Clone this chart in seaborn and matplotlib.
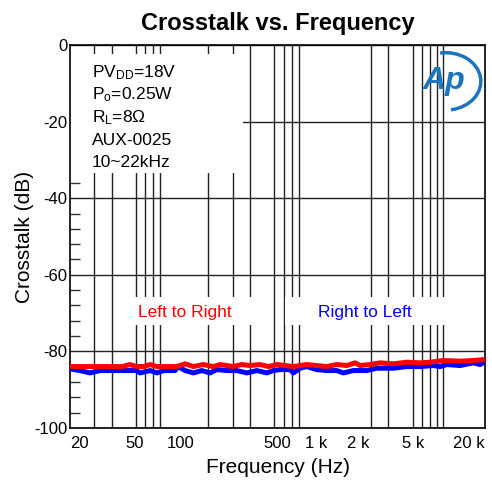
import matplotlib
matplotlib.use('Agg')
import matplotlib.pyplot as plt
import seaborn as sns
import pandas as pd
from matplotlib.patches import Rectangle, Arc
from matplotlib.ticker import FixedLocator, LogLocator, MultipleLocator, NullFormatter

sns.set_style('white')
plt.rcParams['font.family'] = ['Liberation Sans', 'DejaVu Sans']
plt.rcParams['mathtext.fontset'] = 'custom'
plt.rcParams['mathtext.rm'] = 'Liberation Sans'
plt.rcParams['mathtext.it'] = 'Liberation Sans:italic'
plt.rcParams['axes.unicode_minus'] = False
plt.rcParams['text.color'] = 'black'
plt.rcParams['axes.labelcolor'] = 'black'
plt.rcParams['xtick.color'] = 'black'
plt.rcParams['ytick.color'] = 'black'

# ---- data ----
lr_freq = [20, 30, 40, 48, 54, 60, 68, 76, 85, 100, 118, 136, 156, 184, 217, 243, 272, 303,
           348, 400, 473, 543, 624, 718, 824, 1028, 1216, 1436, 1696, 2000, 2300, 2500, 2952,
           3487, 4353, 5432, 6792, 8018, 10000, 13220, 16490, 20000]
lr_db = [-83.96, -83.96, -83.96, -83.96, -83.43, -83.9, -83.96, -83.43, -83.96, -83.96, -83.96,
         -83.25, -83.96, -83.43, -83.96, -83.43, -83.69, -83.96, -83.43, -83.69, -83.43, -83.96,
         -83.43, -83.69, -83.96, -83.43, -83.69, -83.96, -83.43, -83.69, -82.99, -83.69, -83.43,
         -82.99, -83.25, -82.82, -82.99, -82.82, -82.38, -82.55, -82.38, -82.11]

rl_freq = [20, 23.6, 27.9, 32.9, 60.7, 64, 76, 85, 95, 115, 121, 136, 156, 179, 206, 230, 272,
           321, 379, 448, 529, 590, 660, 780, 824, 921, 1028, 1216, 1436, 1696, 1893, 2234, 2795,
           3304, 4353, 5432, 6792, 8474, 9460, 10580, 13220, 16490, 18450, 20000]
rl_db = [-84.57, -85.0, -85.62, -85.0, -85.0, -85.62, -85.0, -85.62, -85.0, -85.0, -83.96, -85.0,
         -85.62, -85.0, -85.62, -84.75, -85.0, -85.0, -85.62, -85.0, -85.62, -85.0, -84.75, -84.75,
         -85.62, -84.39, -83.96, -84.75, -85.0, -85.0, -85.62, -85.0, -85.0, -84.39, -84.39, -83.96,
         -83.96, -83.69, -83.96, -83.43, -83.69, -82.99, -83.43, -82.64]

xtick_vals = [20, 50, 100, 500, 1000, 2000, 5000, 20000]
xtick_labels = ['20', '50', '100', '500', '1 k', '2 k', '5 k', '20 k']
ytick_vals = [0, -20, -40, -60, -80, -100]

info_lines = [r'PV$_{\mathrm{DD}}$=18V', r'P$_{\mathrm{o}}$=0.25W', r'R$_{\mathrm{L}}$=8Ω',
              'AUX-0025', '10~22kHz']

df_lr = pd.DataFrame({'f': lr_freq, 'db': lr_db})
df_rl = pd.DataFrame({'f': rl_freq, 'db': rl_db})

fig = plt.figure(figsize=(4.92, 4.80), dpi=100)
ax = fig.add_axes([70/492, 1-428/480, 415/492, 383/480])
ax.set_axisbelow(True)

sns.lineplot(data=df_rl, x='f', y='db', ax=ax, color='#0000ff', lw=3.6, zorder=3)
sns.lineplot(data=df_lr, x='f', y='db', ax=ax, color='#ff0000', lw=3.6, zorder=3)

ax.set_xscale('log')
ax.set_xlim(20, 20000)
ax.set_ylim(-100, 0)

ax.xaxis.set_major_locator(FixedLocator(xtick_vals))
ax.set_xticklabels(xtick_labels)
ax.xaxis.set_minor_locator(LogLocator(base=10, subs=range(1, 10), numticks=50))
ax.xaxis.set_minor_formatter(NullFormatter())
for i, lbl in enumerate(ax.get_xticklabels()):
    lbl.set_ha('right' if i == len(xtick_vals) - 1 else 'left')
ax.tick_params(axis='x', which='both', length=0, pad=6, labelsize=12, colors='black')

ax.set_yticks(ytick_vals)
ax.yaxis.set_minor_locator(MultipleLocator(4))
ax.tick_params(axis='y', which='major', length=0, pad=2, labelsize=12, colors='black')
ax.tick_params(axis='y', which='minor', direction='in', length=7.5, width=1, left=True, color='#333333')

ax.grid(False)
ax.xaxis.grid(True, which='minor', color='#222222', lw=1)
ax.yaxis.grid(True, which='major', color='#222222', lw=1)

for s in ax.spines.values():
    s.set_color('black')
    s.set_linewidth(1.2)

ax.set_title('Crosstalk vs. Frequency', fontsize=17, fontweight='bold', pad=11, color='black')
ax.set_xlabel('Frequency (Hz)', fontsize=15, labelpad=5, color='black')
ax.set_ylabel('Crosstalk (dB)', fontsize=15, labelpad=0, color='black')

# white boxes hiding the grid
ax.add_patch(Rectangle((0.003, 0.666), 0.414, 0.31, transform=ax.transAxes, facecolor='white',
                       edgecolor='none', zorder=1.5))
ax.add_patch(Rectangle((0.108, 0.269), 0.34, 0.072, transform=ax.transAxes, facecolor='white',
                       edgecolor='none', zorder=1.5))
ax.add_patch(Rectangle((0.518, 0.269), 0.39, 0.072, transform=ax.transAxes, facecolor='white',
                       edgecolor='none', zorder=1.5))

ys = [0.9164, 0.8577, 0.799, 0.740, 0.6815]
for line, y in zip(info_lines, ys):
    ax.text(0.053, y, line, transform=ax.transAxes, fontsize=12.5, ha='left', va='baseline',
            zorder=4, color='black')

ax.text(0.277, 0.2898, 'Left to Right', transform=ax.transAxes, fontsize=12.5, color='#ff0000',
        ha='center', va='baseline', zorder=4)
ax.text(0.711, 0.2898, 'Right to Left', transform=ax.transAxes, fontsize=12.5, color='#0000ff',
        ha='center', va='baseline', zorder=4)

# logo
ax.add_patch(Arc((0.905, 0.905), 0.17, 0.15, theta1=-80, theta2=100, transform=ax.transAxes,
                 color='#1b75bc', lw=2.5, zorder=4))
ax.text(0.9, 0.905, 'Ap', transform=ax.transAxes, fontsize=23, fontweight='bold',
        fontstyle='italic', color='#1b75bc', ha='center', va='center', zorder=4)

fig.savefig('out.png', dpi=100)
